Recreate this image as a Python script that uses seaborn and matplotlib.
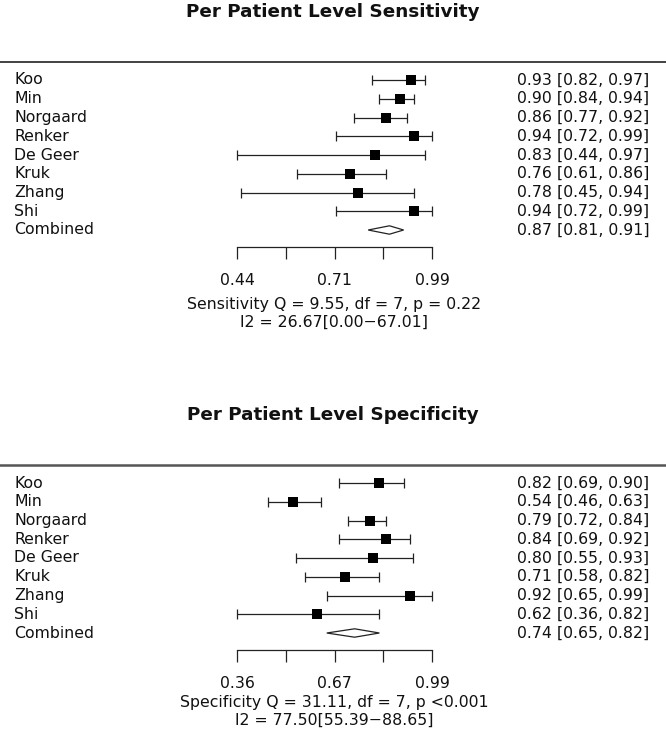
import numpy as np
import pandas as pd
import matplotlib
matplotlib.use("Agg")
import matplotlib.pyplot as plt
import matplotlib.transforms as mtransforms
import seaborn as sns

# ---------------- data ----------------
studies = ["Koo", "Min", "Norgaard", "Renker", "De Geer", "Kruk", "Zhang", "Shi"]

sens_est = [0.93, 0.90, 0.86, 0.94, 0.83, 0.76, 0.78, 0.94]
sens_lo = [0.82, 0.84, 0.77, 0.72, 0.44, 0.61, 0.45, 0.72]
sens_hi = [0.97, 0.94, 0.92, 0.99, 0.97, 0.86, 0.94, 0.99]
sens_comb = [0.87, 0.81, 0.91]
sens_ticks = [0.44, 0.5775, 0.715, 0.8525, 0.99]
sens_ticklabels = ["0.44", "", "0.71", "", "0.99"]
sens_title = "Per Patient Level Sensitivity"
sens_q = "Sensitivity Q = 9.55, df = 7, p = 0.22"
sens_i2 = "I2 = 26.67[0.00\u221267.01]"

spec_est = [0.82, 0.54, 0.79, 0.84, 0.80, 0.71, 0.92, 0.62]
spec_lo = [0.69, 0.46, 0.72, 0.69, 0.55, 0.58, 0.65, 0.36]
spec_hi = [0.90, 0.63, 0.84, 0.92, 0.93, 0.82, 0.99, 0.82]
spec_comb = [0.74, 0.65, 0.82]
spec_ticks = [0.36, 0.5175, 0.675, 0.8325, 0.99]
spec_ticklabels = ["0.36", "", "0.67", "", "0.99"]
spec_title = "Per Patient Level Specificity"
spec_q = "Specificity Q = 31.11, df = 7, p <0.001"
spec_i2 = "I2 = 77.50[55.39\u221288.65]"

# ---------------- style ----------------
sns.set_style("white")
plt.rcParams["font.family"] = ["DejaVu Sans"]
W, H = 666, 743
DPI = 100
fig = plt.figure(figsize=(W / DPI, H / DPI), dpi=DPI)

FS = 11.3
PX_LO, PX_HI = 237, 432      # pixel positions of axis ends
ROW_STEP = 18.75


def panel(offset, est, lo, hi, comb, ticks, ticklabels, title, qtxt, i2txt,
          q_px, i2_px, top_lw, top_color):
    line_px = 62 + offset
    first_px = 80 + offset
    spine_px = 247 + offset
    comb_px = first_px + 8 * ROW_STEP
    ax = fig.add_axes([0, 1 - spine_px / H, 1, (spine_px - line_px) / H])

    amin, amax = ticks[0], ticks[-1]
    per_px = (amax - amin) / (PX_HI - PX_LO)
    ax.set_xlim(amin - PX_LO * per_px, amax + (W - PX_HI) * per_px)
    ax.set_ylim(8 + (spine_px - comb_px) / ROW_STEP, -(first_px - line_px) / ROW_STEP)

    df = pd.DataFrame({"study": studies, "est": est, "lo": lo, "hi": hi,
                       "row": np.arange(len(studies))})

    ax.errorbar(df["est"], df["row"],
                xerr=[df["est"] - df["lo"], df["hi"] - df["est"]],
                fmt="none", ecolor="#222222", elinewidth=0.9,
                capsize=3.6, capthick=0.9, zorder=2)
    sns.scatterplot(data=df, x="est", y="row", marker="s", color="black",
                    s=46, linewidth=0, ax=ax, zorder=3, legend=False)

    # combined diamond
    c, clo, chi = comb
    r = len(studies)
    hh = 4.2 / ROW_STEP
    ax.fill([clo, c, chi, c, clo], [r, r - hh, r, r + hh, r],
            facecolor="white", edgecolor="#222222", linewidth=0.9, zorder=3)

    blend = mtransforms.blended_transform_factory(ax.transAxes, ax.transData)
    names = studies + ["Combined"]
    vals = list(zip(est, lo, hi)) + [tuple(comb)]
    for i, (nm, (e, l, h)) in enumerate(zip(names, vals)):
        ax.text(14 / W, i, nm, transform=blend, ha="left", va="center",
                fontsize=FS, color="#111111")
        ax.text(517 / W, i, f"{e:.2f} [{l:.2f}, {h:.2f}]", transform=blend,
                ha="left", va="center", fontsize=FS, color="#111111")

    # axis styling (R-like)
    for s in ["left", "right"]:
        ax.spines[s].set_visible(False)
    ax.spines["top"].set_linewidth(top_lw)
    ax.spines["top"].set_color(top_color)
    ax.spines["bottom"].set_bounds(amin, amax)
    ax.spines["bottom"].set_linewidth(0.9)
    ax.spines["bottom"].set_color("#222222")
    ax.set_xticks(ticks, ticklabels)
    ax.set_yticks([])
    ax.tick_params(axis="x", direction="out", length=8.6, width=0.9,
                   color="#222222", pad=10, labelsize=FS, labelcolor="#111111",
                   bottom=True)
    ax.set_xlabel("")
    ax.set_ylabel("")

    cx = (PX_LO + PX_HI) / 2 / W
    fig.text(0.5, 1 - (12 + offset) / H, title, ha="center", va="center",
             fontsize=13.2, fontweight="bold", color="#111111")
    fig.text(cx, 1 - q_px / H, qtxt, ha="center", va="center",
             fontsize=FS, color="#111111")
    fig.text(cx, 1 - i2_px / H, i2txt, ha="center", va="center",
             fontsize=FS, color="#111111")
    return ax


panel(0, sens_est, sens_lo, sens_hi, sens_comb, sens_ticks, sens_ticklabels,
      sens_title, sens_q, sens_i2, 304, 322, 1.2, "#222222")
panel(403, spec_est, spec_lo, spec_hi, spec_comb, spec_ticks, spec_ticklabels,
      spec_title, spec_q, spec_i2, 702, 720, 1.8, "#555555")

fig.savefig("out.png", dpi=DPI, facecolor="white")
